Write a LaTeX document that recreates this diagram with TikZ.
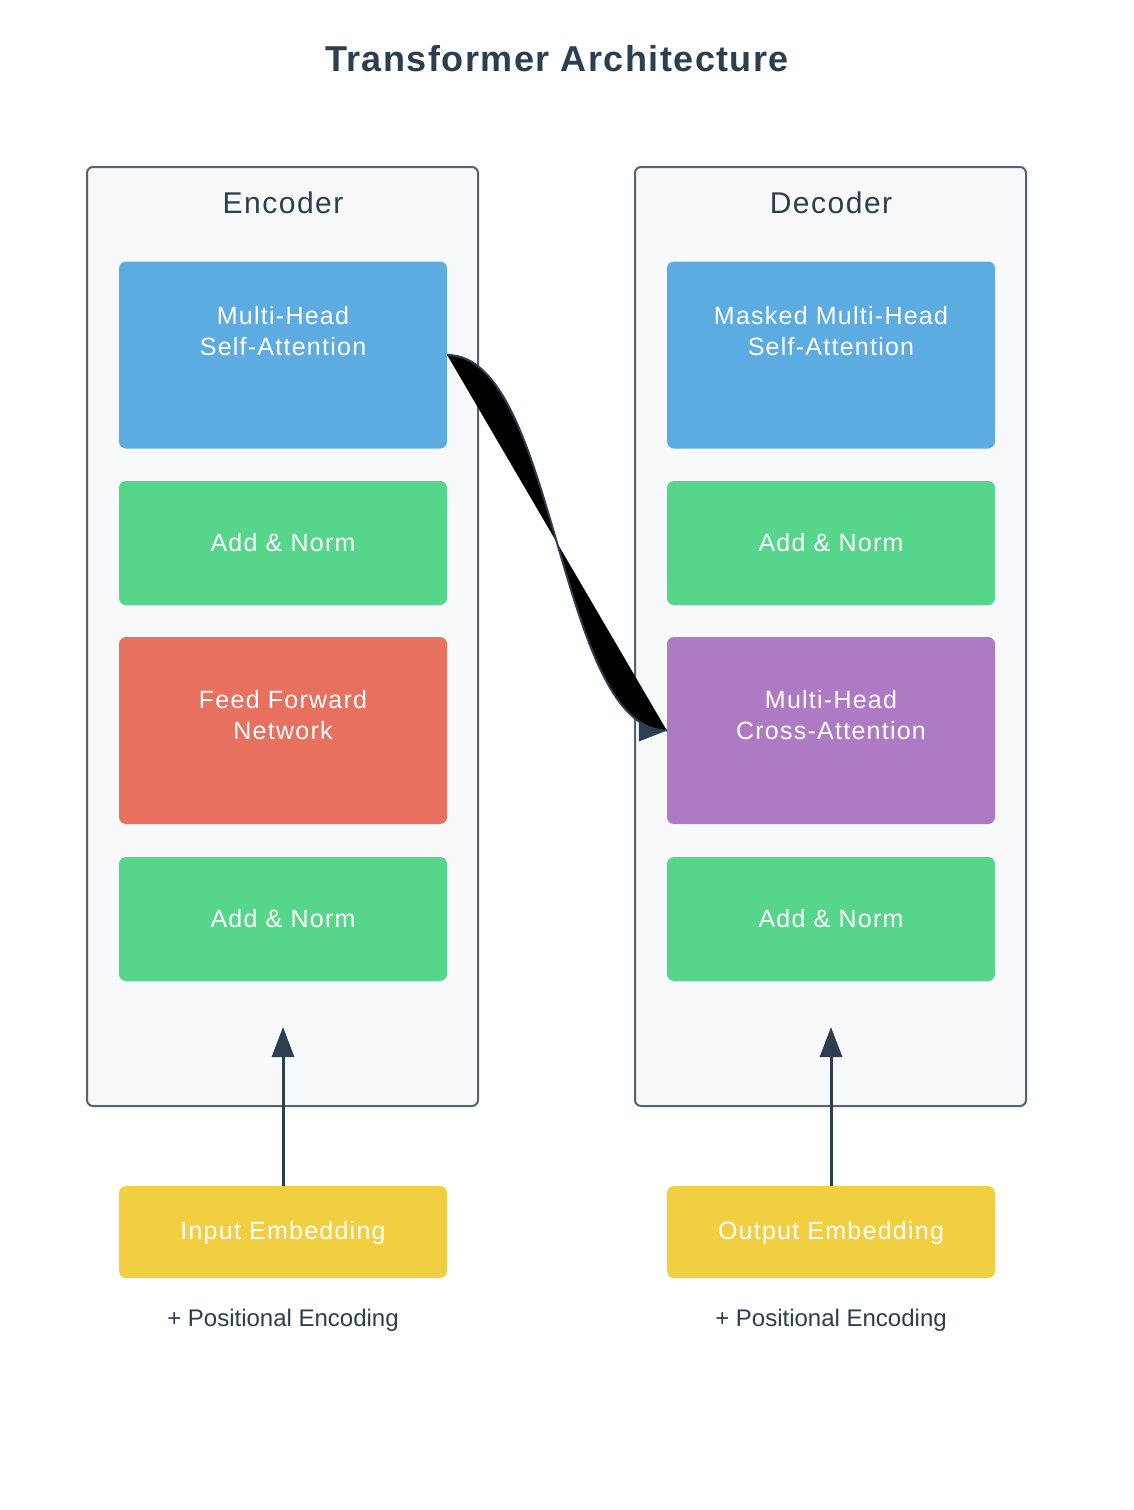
\documentclass[tikz,border=0pt]{standalone}
\usepackage{fontspec}
\setmainfont{Liberation Sans}
\newfontfamily\lblfont[LetterSpace=5]{Liberation Sans}
\newfontfamily\ttlfont[LetterSpace=4]{Liberation Sans}
\usetikzlibrary{arrows.meta,calc}
\definecolor{dark}{HTML}{2C3E50}
\definecolor{cborder}{HTML}{56636F}
\definecolor{cfill}{HTML}{F8F9FA}
\definecolor{cblue}{HTML}{5DACE1}
\definecolor{cgreen}{HTML}{55D68B}
\definecolor{cred}{HTML}{E8705F}
\definecolor{cpurple}{HTML}{AE7AC3}
\definecolor{cyellow}{HTML}{F2CF40}
\tikzset{
  container/.style={draw=cborder, line width=2pt, fill=cfill, rounded corners=6pt,
    minimum width=391pt, minimum height=939pt, inner sep=0pt},
  block/.style={rounded corners=7pt, minimum width=328pt, inner sep=0pt, draw=none},
  tallblock/.style={block, minimum height=187pt},
  shortblock/.style={block, minimum height=124pt},
  embblock/.style={block, minimum height=92pt},
  lbl/.style={text=white, align=center, font=\lblfont\fontsize{25}{31}\selectfont},
  head/.style={text=dark, font=\lblfont\fontsize{30}{36}\selectfont},
  note/.style={text=dark, font=\fontsize{24}{28}\selectfont},
  uparrow/.style={draw=dark, line width=3pt, -{Triangle[length=30pt,width=22pt]}},
}
\begin{document}
\begin{tikzpicture}[x=1pt,y=-1pt]
\useasboundingbox[fill=white] (0,0) rectangle (1134,1510);
% title
\node[text=dark, font=\ttlfont\bfseries\fontsize{36}{42}\selectfont] (title) at (557,59) {Transformer Architecture};
% containers
\node[container] (enc) at (282.5,636.5) {};
\node[container] (dec) at (830.5,636.5) {};
\node[head] (enclbl) at (283,203) {Encoder};
\node[head] (declbl) at (831,203) {Decoder};
% encoder blocks
\node[tallblock, fill=cblue] (mhsa) at (283,355) {};
\node[lbl] (mhsat) at (283,331) {Multi-Head\\Self-Attention};
\node[shortblock, fill=cgreen] (ean1) at (283,543) {};
\node[lbl] (ean1t) at (283,543) {Add \& Norm};
\node[tallblock, fill=cred] (ffn) at (283,730.5) {};
\node[lbl] (ffnt) at (283,715) {Feed Forward\\Network};
\node[shortblock, fill=cgreen] (ean2) at (283,919) {};
\node[lbl] (ean2t) at (283,919) {Add \& Norm};
% decoder blocks
\node[tallblock, fill=cblue] (mmhsa) at (831,355) {};
\node[lbl] (mmhsat) at (831,331) {Masked Multi-Head\\Self-Attention};
\node[shortblock, fill=cgreen] (dan1) at (831,543) {};
\node[lbl] (dan1t) at (831,543) {Add \& Norm};
\node[tallblock, fill=cpurple] (cross) at (831,730.5) {};
\node[lbl] (crosst) at (831,715) {Multi-Head\\Cross-Attention};
\node[shortblock, fill=cgreen] (dan2) at (831,919) {};
\node[lbl] (dan2t) at (831,919) {Add \& Norm};
% embeddings
\node[embblock, fill=cyellow] (inemb) at (283,1232) {};
\node[lbl] (inembt) at (283,1233) {Input Embedding};
\node[embblock, fill=cyellow] (outemb) at (831,1232) {};
\node[lbl] (outembt) at (831,1233) {Output Embedding};
\node[note] (inpe) at (283,1320.5) {+ Positional Encoding};
\node[note] (outpe) at (831,1320.5) {+ Positional Encoding};
% input arrows
\coordinate (encin) at (283,1027);
\coordinate (decin) at (831,1027);
\draw[uparrow] (inemb.north) -- (encin);
\draw[uparrow] (outemb.north) -- (decin);
% cross connector
\fill[dark] (cross.west) -- ++(-28,-11) -- ++(0,22) -- cycle;
\fill[black] (mhsa.east) .. controls +(110,0) and +(-110,0) .. (cross.west) -- cycle;
\draw[dark, line width=2pt] (mhsa.east) .. controls +(110,0) and +(-110,0) .. (cross.west);
\end{tikzpicture}
\end{document}
